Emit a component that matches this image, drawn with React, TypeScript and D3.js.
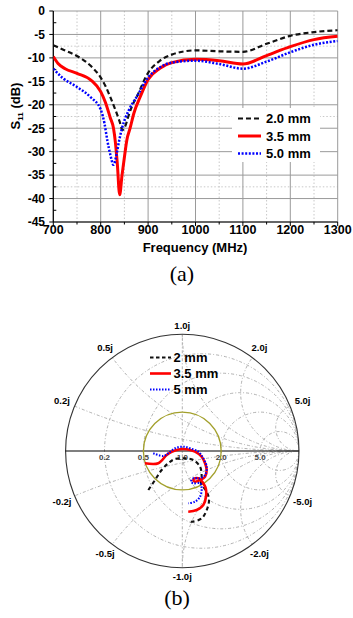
import React from 'react'
import * as d3 from 'd3'

// ---- panel (a): S11 vs frequency ----
const xTicks = [700, 800, 900, 1000, 1100, 1200, 1300]
const yTicks = [0, -5, -10, -15, -20, -25, -30, -35, -40, -45]
const minorX = [750, 850, 950, 1050, 1150, 1250]
const minorY = [-7.5, -22.5, -37.5]

const freq20 = [700, 720, 750, 780, 800, 810, 820, 834, 840, 846, 852, 858, 866, 876, 900, 925, 950, 1000, 1050, 1100, 1150, 1200, 1250, 1300]
const s20 = [-7.3, -8.2, -9.6, -11.8, -14.2, -16, -18.3, -21.9, -23.6, -25.4, -24.5, -22.6, -20.3, -18.3, -13.2, -10.6, -9.3, -8.4, -8.6, -8.7, -7, -5.3, -4.5, -4.1]

const freq35 = [700, 710, 725, 750, 780, 800, 810, 820, 827, 831, 835, 840, 845, 850, 855, 862, 870, 883, 900, 925, 950, 1000, 1050, 1100, 1150, 1200, 1250, 1300]
const s35 = [-9.7, -11.2, -12.3, -13.3, -14.8, -17.2, -19.5, -22.7, -25, -28, -32.5, -39.2, -35, -31.2, -27.6, -25, -21.8, -18.4, -14.6, -12.2, -11, -10.3, -10.6, -11.3, -9.5, -7.6, -6.1, -5.4]

const freq50 = [700, 720, 750, 780, 800, 808, 814, 820, 827, 834, 839, 845, 860, 876, 900, 925, 950, 1000, 1050, 1100, 1150, 1200, 1250, 1300]
const s50 = [-12.3, -14.3, -16.2, -18.5, -21, -24, -27.6, -30.5, -32.8, -30.3, -27.6, -25, -21, -18.3, -14.2, -12, -11, -10.6, -11.3, -12.3, -10.8, -8.8, -7.2, -6.4]

const legendA = ['2.0 mm', '3.5 mm', '5.0 mm']

// ---- panel (b): Smith chart, reflection coefficient (re, im) ----
const gam20 = [[-0.291, -0.334], [-0.234, -0.249], [-0.177, -0.163], [-0.12, -0.105], [-0.063, -0.069], [0.023, -0.063], [0.094, -0.077], [0.152, -0.135], [0.166, -0.22], [0.16, -0.277], [0.209, -0.349], [0.229, -0.42], [0.209, -0.506], [0.166, -0.577], [0.081, -0.606], [0.051, -0.597]]
const gam35 = [[-0.321, -0.105], [-0.206, -0.105], [-0.134, -0.034], [-0.091, -0.006], [-0.02, 0.015], [0.038, 0.015], [0.109, -0.006], [0.166, -0.049], [0.195, -0.105], [0.209, -0.163], [0.195, -0.22], [0.152, -0.249], [0.109, -0.263], [0.094, -0.249], [0.109, -0.234], [0.152, -0.24], [0.18, -0.277], [0.201, -0.32], [0.203, -0.392], [0.18, -0.463], [0.123, -0.506], [0.051, -0.52]]
const gam50 = [[-0.249, -0.02], [-0.163, -0.043], [-0.12, -0.02], [-0.063, 0.023], [0.009, 0.037], [0.066, 0.023], [0.137, -0.006], [0.18, -0.063], [0.209, -0.135], [0.195, -0.206], [0.152, -0.234], [0.094, -0.234], [0.075, -0.263], [0.094, -0.277], [0.152, -0.277], [0.166, -0.32], [0.152, -0.392], [0.109, -0.434], [0.051, -0.448]]

const resVals = [0.2, 0.5, 1, 2, 5]
const reactVals = [0.2, 0.5, 1, 2, 5]
const resLabels = ['0.2', '0.5', '1.0', '2.0', '5.0']
const reactLabels = ['0.2j', '0.5j', '1.0j', '2.0j', '5.0j']
const legendB = ['2 mm', '3.5 mm', '5 mm']

const sans = '"Liberation Sans", Arial, sans-serif'
const styles = [
  { stroke: '#111', width: 2.2, dash: '5,3' },
  { stroke: '#ff0000', width: 3, dash: null },
  { stroke: '#0000ff', width: 2.5, dash: '2,1.6' },
]

function PanelA() {
  const x = d3.scaleLinear().domain([700, 1300]).range([53.3, 337.7])
  const y = d3.scaleLinear().domain([-45, 0]).range([222, 11])
  const line = d3.line<number>().curve(d3.curveMonotoneX)
  const mk = (f: number[], s: number[]) => line(f.map((v, i) => [x(v), y(s[i])]) as any)
  const series = [mk(freq20, s20), mk(freq35, s35), mk(freq50, s50)]
  const [x0, x1] = x.range()
  const [y0, y1] = y.range()

  return (
    <g>
      {minorX.map(v => <line key={'mx' + v} x1={x(v)} x2={x(v)} y1={y1} y2={y0} stroke="#c8c8c8" strokeDasharray="1.5,2" />)}
      {minorY.map(v => <line key={'my' + v} x1={x0} x2={x1} y1={y(v)} y2={y(v)} stroke="#c8c8c8" strokeDasharray="1.5,2" />)}
      {xTicks.map(v => <line key={'gx' + v} x1={x(v)} x2={x(v)} y1={y1} y2={y0} stroke="#9a9a9a" />)}
      {yTicks.map(v => <line key={'gy' + v} x1={x0} x2={x1} y1={y(v)} y2={y(v)} stroke="#9a9a9a" />)}
      {/* axes */}
      <line x1={x0} x2={x0} y1={y1} y2={y0} stroke="#000" strokeWidth={1.2} />
      <line x1={x0} x2={x1} y1={y0} y2={y0} stroke="#000" strokeWidth={1.2} />
      {yTicks.map(v => <line key={'ty' + v} x1={x0 - 4} x2={x0} y1={y(v)} y2={y(v)} stroke="#000" />)}
      {yTicks.slice(0, -1).map(v => <line key={'tym' + v} x1={x0} x2={x0 + 3} y1={y(v - 2.5)} y2={y(v - 2.5)} stroke="#000" />)}
      {xTicks.map(v => <line key={'tx' + v} x1={x(v)} x2={x(v)} y1={y0} y2={y0 + 4} stroke="#000" />)}
      {minorX.map(v => <line key={'txm' + v} x1={x(v)} x2={x(v)} y1={y0} y2={y0 + 2.5} stroke="#000" />)}
      {yTicks.map(v => (
        <text key={'ly' + v} x={45} y={y(v)} dy="0.36em" textAnchor="end" fontSize={12} fontWeight="bold" fontFamily={sans}>{v}</text>
      ))}
      {xTicks.map(v => (
        <text key={'lx' + v} x={x(v)} y={234} textAnchor="middle" fontSize={12.5} fontWeight="bold" fontFamily={sans}>{v}</text>
      ))}
      <text x={195} y={252} textAnchor="middle" fontSize={13} fontWeight="bold" fontFamily={sans}>Frequency (MHz)</text>
      <text transform="translate(20,106) rotate(-90)" textAnchor="middle" fontSize={13} fontWeight="bold" fontFamily={sans}>
        S<tspan fontSize={8} dy={3}>11</tspan><tspan dy={-3}> (dB)</tspan>
      </text>
      <defs>
        <clipPath id="clipA"><rect x={x0} y={y1} width={x1 - x0} height={y0 - y1} /></clipPath>
      </defs>
      <g clipPath="url(#clipA)">
        {series.map((d, i) => (
          <path key={i} d={d || ''} fill="none" stroke={styles[i].stroke} strokeWidth={styles[i].width}
            strokeDasharray={styles[i].dash || undefined} />
        ))}
      </g>
      {/* legend */}
      <rect x={232} y={108} width={88} height={54} fill="#fff" />
      {legendA.map((t, i) => (
        <g key={t} transform={`translate(0,${118.5 + i * 17.5})`}>
          <line x1={238} x2={261} y1={0} y2={0} stroke={styles[i].stroke} strokeWidth={styles[i].width}
            strokeDasharray={styles[i].dash || undefined} />
          <text x={266} y={0} dy="0.36em" fontSize={13} fontWeight="bold" fontFamily={sans}>{t}</text>
        </g>
      ))}
      <text x={182} y={281} textAnchor="middle" fontSize={22} fontFamily='"Liberation Serif", "Times New Roman", serif'>(a)</text>
    </g>
  )
}

function PanelB() {
  const gx = d3.scaleLinear().domain([-1, 1]).range([65.6, 299])
  const gy = d3.scaleLinear().domain([-1, 1]).range([567.7, 334.3])
  const R = gx(1) - gx(0)
  const cx = gx(0), cy = gy(0)
  const line = d3.line<number[]>().x(p => gx(p[0])).y(p => gy(p[1])).curve(d3.curveCatmullRom.alpha(0.5))
  const curves = [line(gam20), line(gam35), line(gam50)]
  const grid = '#a8a8a8'

  return (
    <g>
      <defs>
        <clipPath id="clipB"><circle cx={cx} cy={cy} r={R} /></clipPath>
      </defs>
      <g clipPath="url(#clipB)" fill="none" stroke={grid} strokeWidth={0.9} strokeDasharray="3,2,1,2">
        {resVals.map(r => (
          <circle key={'r' + r} cx={gx(r / (r + 1))} cy={cy} r={R / (r + 1)} />
        ))}
        {reactVals.flatMap(v => [v, -v]).map(v => (
          <circle key={'x' + v} cx={gx(1)} cy={gy(1 / v)} r={R / Math.abs(v)} />
        ))}
        <line x1={cx} x2={cx} y1={gy(1)} y2={gy(-1)} />
      </g>
      <circle cx={cx} cy={cy} r={R} fill="none" stroke="#333" strokeWidth={1.1} />
      <line x1={gx(-1)} x2={gx(1)} y1={cy} y2={cy} stroke="#000" strokeWidth={1.1} />
      <circle cx={cx} cy={cy} r={R / 3} fill="none" stroke="#a3a02c" strokeWidth={1.3} />
      {resVals.map((r, i) => (
        <text key={'lr' + r} x={gx((r - 1) / (r + 1))} y={cy + 9} textAnchor="middle" fontSize={8} fontWeight="bold"
          fill="#444" fontFamily={sans}>{resLabels[i]}</text>
      ))}
      {reactVals.flatMap((v, i) => [[v, reactLabels[i]], [-v, '-' + reactLabels[i]]] as [number, string][]).map(([v, t]) => {
        // point on the unit circle where z = j*v
        const den = 1 + v * v
        const re = (v * v - 1) / den, im = (2 * v) / den
        const off = 9 + Math.abs(re) * 5
        return (
          <text key={'lx' + t} x={gx(re) + re * off} y={gy(im) - im * off} dy="0.36em" textAnchor="middle"
            fontSize={9.5} fontWeight="bold" fontFamily={sans}>{t}</text>
        )
      })}
      {curves.map((d, i) => (
        <path key={i} d={d || ''} fill="none" stroke={styles[i].stroke} strokeWidth={i === 1 ? 2.6 : 2.1}
          strokeDasharray={i === 0 ? '4,3' : i === 2 ? '1.5,1.5' : undefined} />
      ))}
      {legendB.map((t, i) => (
        <g key={t} transform={`translate(0,${357.5 + i * 16})`}>
          <line x1={150} x2={171} y1={0} y2={0} stroke={styles[i].stroke} strokeWidth={i === 1 ? 2.6 : 2}
            strokeDasharray={i === 0 ? '3.5,2.5' : i === 2 ? '1.5,1.5' : undefined} />
          <text x={173.5} y={0} dy="0.36em" fontSize={13} fontWeight="bold" fontFamily={sans}>{t}</text>
        </g>
      ))}
      <text x={177} y={605} textAnchor="middle" fontSize={22} fontFamily='"Liberation Serif", "Times New Roman", serif'>(b)</text>
    </g>
  )
}

export default function App() {
  return (
    <svg width={353} height={618} style={{ position: 'absolute', left: 0, top: 0, background: '#fff' }}>
      <rect width={353} height={618} fill="#fff" />
      <PanelA />
      <PanelB />
    </svg>
  )
}
